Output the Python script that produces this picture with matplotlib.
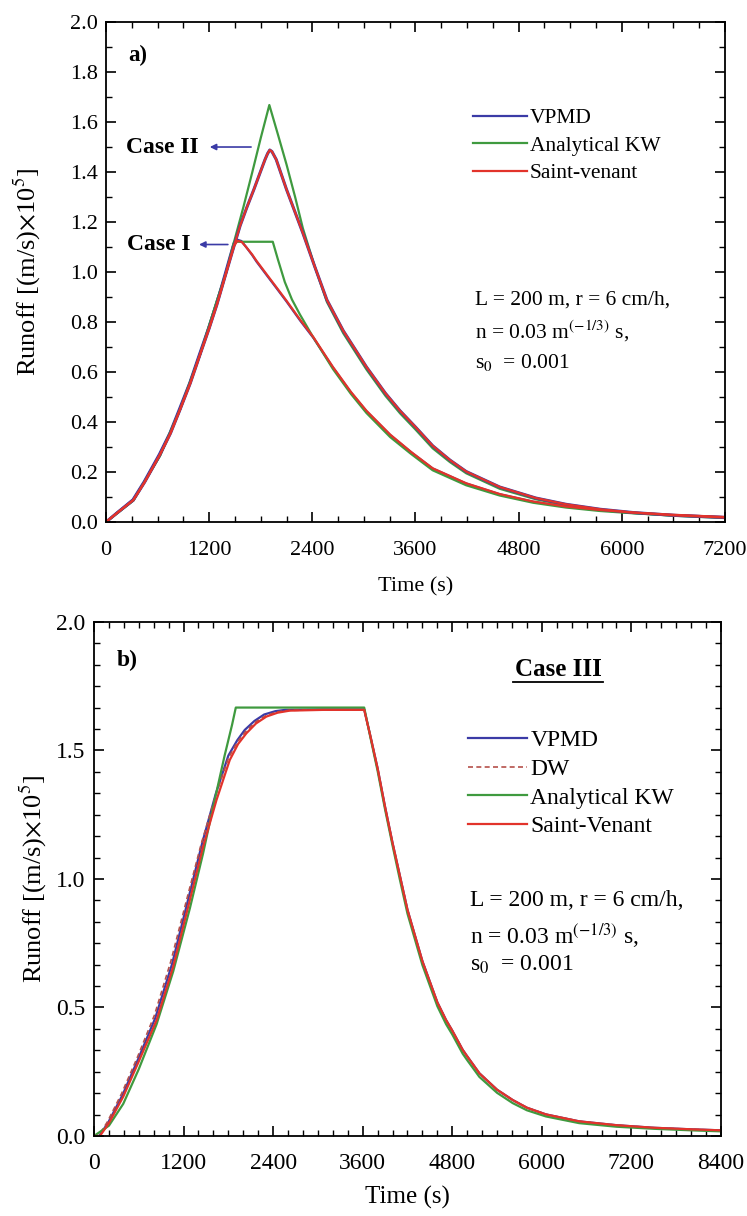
import matplotlib
matplotlib.use("Agg")
import matplotlib.pyplot as plt
from matplotlib.ticker import MultipleLocator, AutoMinorLocator, FormatStrFormatter

plt.rcParams['font.family'] = ['Liberation Serif', 'DejaVu Serif']
plt.rcParams['mathtext.fontset'] = 'stix'

# ---- panel a) data (time in s, runoff in (m/s)x1e5) ----
# Case I
t_a1_sv = [0, 124, 318, 450, 628, 750, 861, 980, 1094, 1200, 1290, 1350, 1400, 1450, 1490, 1530, 1580,
           1630, 1700, 1750, 1870, 1980, 2100, 2256, 2411, 2640, 2850, 3030, 3305, 3550, 3800, 4190,
           4580, 4970, 5350, 5750, 6130, 6600, 7200]
q_a1_sv = [0, 0.035, 0.088, 0.16, 0.27, 0.355, 0.45, 0.555, 0.67, 0.775, 0.87, 0.94, 1.0, 1.06, 1.105, 1.125, 1.12,
           1.1, 1.07, 1.045, 0.99, 0.94, 0.885, 0.81, 0.74, 0.62, 0.52, 0.445, 0.35, 0.28, 0.215, 0.155,
           0.112, 0.082, 0.062, 0.048, 0.038, 0.029, 0.02]
t_a1_vp = [0, 120, 310, 440, 618, 740, 850, 970, 1084, 1190, 1280, 1340, 1390, 1440, 1480, 1520, 1575,
           1630, 1700, 1750, 1870, 1980, 2100, 2256, 2411, 2640, 2850, 3030, 3305, 3550, 3800, 4190,
           4580, 4970, 5350, 5750, 6130, 6600, 7200]
q_a1_vp = [0, 0.036, 0.09, 0.162, 0.272, 0.357, 0.452, 0.557, 0.672, 0.777, 0.872, 0.942, 1.002, 1.063, 1.11, 1.13, 1.124,
           1.1, 1.068, 1.042, 0.987, 0.937, 0.882, 0.807, 0.737, 0.618, 0.518, 0.443, 0.348, 0.279, 0.214, 0.154,
           0.111, 0.081, 0.061, 0.047, 0.037, 0.028, 0.02]
t_a1_kw = [0, 318, 628, 861, 1094, 1290, 1400, 1490, 1940, 2000, 2080, 2163, 2256, 2400, 2640, 2850, 3030,
           3305, 3550, 3800, 4190, 4580, 4970, 5350, 5750, 6130, 6600, 7200]
q_a1_kw = [0, 0.086, 0.265, 0.45, 0.67, 0.885, 1.0, 1.121, 1.121, 1.05, 0.96, 0.89, 0.83, 0.745, 0.612, 0.512, 0.436,
           0.34, 0.272, 0.207, 0.147, 0.106, 0.077, 0.058, 0.044, 0.035, 0.026, 0.018]

# Case II
t_a2_sv = [0, 124, 318, 450, 628, 750, 861, 980, 1094, 1200, 1290, 1400, 1490, 1560, 1640, 1720, 1790,
           1850, 1880, 1905, 1930, 1980, 2100, 2290, 2430, 2570, 2760, 3030, 3250, 3420, 3600, 3800,
           4000, 4190, 4580, 5000, 5350, 5750, 6130, 6600, 7200]
q_a2_sv = [0, 0.035, 0.088, 0.16, 0.27, 0.355, 0.45, 0.555, 0.67, 0.775, 0.87, 1.0, 1.105, 1.185, 1.26, 1.33, 1.395,
           1.45, 1.474, 1.488, 1.482, 1.45, 1.33, 1.156, 1.02, 0.888, 0.765, 0.62, 0.515, 0.445, 0.38, 0.305,
           0.248, 0.202, 0.14, 0.096, 0.071, 0.051, 0.038, 0.027, 0.018]
t_a2_kw = [0, 318, 628, 861, 1094, 1290, 1400, 1490, 1600, 1700, 1800, 1900, 2000, 2100, 2200, 2290, 2430,
           2570, 2760, 3030, 3250, 3420, 3600, 3800, 4000, 4190, 4580, 5000, 5350, 5750, 6130, 6600, 7200]
q_a2_kw = [0, 0.086, 0.265, 0.45, 0.67, 0.885, 1.0, 1.121, 1.262, 1.397, 1.536, 1.668, 1.55, 1.43, 1.3, 1.175, 1.02,
           0.88, 0.755, 0.61, 0.505, 0.435, 0.37, 0.295, 0.24, 0.195, 0.133, 0.091, 0.067, 0.048, 0.036, 0.025, 0.016]

# ---- panel b) data ----
t_b_sv = [0, 80, 200, 392, 600, 839, 1061, 1284, 1462, 1641, 1819, 1930, 2042, 2170, 2310, 2460, 2622,
          3067, 3620, 3700, 3800, 3900, 4000, 4100, 4200, 4300, 4400, 4500, 4600, 4717, 4800, 4940,
          5000, 5163, 5400, 5609, 5800, 6055, 6500, 7000, 7500, 8000, 8400]
q_b_sv = [0, 0, 0.05, 0.153, 0.29, 0.451, 0.659, 0.918, 1.126, 1.307, 1.463, 1.525, 1.567, 1.605, 1.632, 1.647, 1.655,
          1.658, 1.658, 1.56, 1.43, 1.28, 1.14, 1.01, 0.88, 0.78, 0.68, 0.6, 0.52, 0.451, 0.41, 0.335,
          0.31, 0.244, 0.18, 0.14, 0.11, 0.084, 0.057, 0.042, 0.032, 0.026, 0.022]
t_b_vp = [0, 70, 190, 380, 590, 820, 1045, 1270, 1450, 1630, 1800, 1920, 2020, 2150, 2280, 2430, 2560,
          3067, 3620, 3700, 3800, 3900, 4000, 4100, 4200, 4300, 4400, 4500, 4600, 4717, 4800, 4940,
          5000, 5163, 5400, 5609, 5800, 6055, 6500, 7000, 7500, 8000, 8400]
q_b_vp = [0, 0, 0.052, 0.158, 0.298, 0.458, 0.668, 0.93, 1.14, 1.33, 1.48, 1.54, 1.58, 1.615, 1.64, 1.653, 1.658,
          1.66, 1.66, 1.56, 1.43, 1.28, 1.14, 1.01, 0.88, 0.78, 0.68, 0.6, 0.52, 0.451, 0.41, 0.335,
          0.31, 0.244, 0.18, 0.14, 0.11, 0.084, 0.057, 0.042, 0.032, 0.026, 0.022]
t_b_dw = [0, 60, 180, 370, 580, 810, 1030, 1260, 1440, 1625, 1800, 1925, 2030, 2160, 2300, 2450, 2600,
          3067, 3620, 3700, 3800, 3900, 4000, 4100, 4200, 4300, 4400, 4500, 4600, 4717, 4800, 4940,
          5000, 5163, 5400, 5609, 5800, 6055, 6500, 7000, 7500, 8000, 8400]
q_b_dw = [0, 0, 0.055, 0.165, 0.305, 0.47, 0.68, 0.94, 1.14, 1.32, 1.47, 1.535, 1.573, 1.61, 1.635, 1.65, 1.656,
          1.658, 1.658, 1.56, 1.43, 1.28, 1.14, 1.01, 0.88, 0.78, 0.68, 0.6, 0.52, 0.451, 0.41, 0.335,
          0.31, 0.244, 0.18, 0.14, 0.11, 0.084, 0.057, 0.042, 0.032, 0.026, 0.022]
t_b_kw = [0, 200, 392, 600, 839, 1061, 1284, 1462, 1551, 1650, 1750, 1850, 1900, 3620, 3700, 3800, 3900,
          4000, 4100, 4200, 4300, 4400, 4500, 4600, 4717, 4800, 4940, 5000, 5163, 5400, 5609, 5800,
          6055, 6500, 7000, 7500, 8000, 8400]
q_b_kw = [0, 0.04, 0.125, 0.26, 0.435, 0.64, 0.885, 1.10, 1.22, 1.35, 1.48, 1.6, 1.667, 1.667, 1.555, 1.42, 1.27,
          1.13, 0.995, 0.865, 0.765, 0.665, 0.585, 0.505, 0.435, 0.395, 0.32, 0.295, 0.23, 0.168, 0.128, 0.1,
          0.076, 0.05, 0.036, 0.028, 0.022, 0.018]

BLUE = '#3b3ba6'
GREEN = '#3f9a3f'
RED = '#e2332b'
DWC = '#b5504a'
lw = 1.6

fig = plt.figure(figsize=(7.47, 12.16), dpi=100)
ax1 = fig.add_axes([0.1419, 0.5707, 0.8286, 0.4112])
ax2 = fig.add_axes([0.1258, 0.0658, 0.8394, 0.4227])

# panel a
ax1.plot(t_a1_vp, q_a1_vp, color=BLUE, lw=lw, label='VPMD')
ax1.plot(t_a1_kw, q_a1_kw, color=GREEN, lw=lw, label='Analytical KW')
ax1.plot(t_a2_kw, q_a2_kw, color=GREEN, lw=lw)
ax1.plot(t_a2_sv, q_a2_sv, color=BLUE, lw=lw + 0.6)
ax1.plot(t_a1_sv, q_a1_sv, color=RED, lw=lw, label='Saint-venant')
ax1.plot(t_a2_sv, q_a2_sv, color=RED, lw=lw)

ax1.set_xlim(0, 7200)
ax1.set_ylim(0, 2.0)
ax1.xaxis.set_major_locator(MultipleLocator(1200))
ax1.xaxis.set_minor_locator(AutoMinorLocator(4))
ax1.yaxis.set_major_locator(MultipleLocator(0.2))
ax1.yaxis.set_minor_locator(AutoMinorLocator(2))
ax1.yaxis.set_major_formatter(FormatStrFormatter('%.1f'))

ax1.text(0.036, 0.934, 'a)', transform=ax1.transAxes, fontsize=16.5, fontweight='bold', va='center')
ax1.annotate('', xy=(1175, 1.5), xytext=(1720, 1.5),
             arrowprops=dict(arrowstyle='-|>', color=BLUE, lw=1.2, mutation_scale=9))
ax1.text(233, 1.5, 'Case II', fontsize=17, fontweight='bold', va='center')
ax1.annotate('', xy=(1050, 1.11), xytext=(1450, 1.11),
             arrowprops=dict(arrowstyle='-|>', color=BLUE, lw=1.2, mutation_scale=9))
ax1.text(244, 1.11, 'Case I', fontsize=17, fontweight='bold', va='center')

ax1.legend(loc='upper left', bbox_to_anchor=(0.593, 0.828), frameon=False, fontsize=15.5,
           handlelength=2.5, handletextpad=0.15, labelspacing=0.35, borderpad=0, borderaxespad=0)

ax1.text(0.596, 0.444, 'L = 200 m, r = 6 cm/h,', transform=ax1.transAxes, fontsize=15.5, va='center')
ax1.text(0.596, 0.382, r'n = 0.03 m$^{(-1/3)}$ s,', transform=ax1.transAxes, fontsize=15.5, va='center')
ax1.text(0.596, 0.32, r's$_0$  = 0.001', transform=ax1.transAxes, fontsize=15.5, va='center')

ax1.set_xlabel('Time (s)', fontsize=16, labelpad=12)
ax1.set_ylabel(r'Runoff [(m/s)$\times$10$^5$]', fontsize=19, labelpad=19)

# panel b
ax2.plot(t_b_vp, q_b_vp, color=BLUE, lw=lw, label='VPMD')
ax2.plot(t_b_dw, q_b_dw, color=DWC, lw=1.2, ls=(0, (3, 2)), label='DW')
ax2.plot(t_b_kw, q_b_kw, color=GREEN, lw=lw, label='Analytical KW')
ax2.plot(t_b_sv, q_b_sv, color=RED, lw=lw, label='Saint-Venant')

ax2.set_xlim(0, 8400)
ax2.set_ylim(0, 2.0)
ax2.xaxis.set_major_locator(MultipleLocator(1200))
ax2.xaxis.set_minor_locator(AutoMinorLocator(6))
ax2.yaxis.set_major_locator(MultipleLocator(0.5))
ax2.yaxis.set_minor_locator(AutoMinorLocator(6))
ax2.yaxis.set_major_formatter(FormatStrFormatter('%.1f'))

ax2.text(0.037, 0.926, 'b)', transform=ax2.transAxes, fontsize=17, fontweight='bold', va='center')
ax2.text(0.74, 0.907, 'Case III', transform=ax2.transAxes, fontsize=18, fontweight='bold',
         va='center', ha='center')
ax2.plot([0.668, 0.812], [0.884, 0.884], transform=ax2.transAxes, color='black', lw=1.3)

ax2.legend(loc='upper left', bbox_to_anchor=(0.596, 0.79), frameon=False, fontsize=17,
           handlelength=2.5, handletextpad=0.15, labelspacing=0.3, borderpad=0, borderaxespad=0)

ax2.text(0.6, 0.459, 'L = 200 m, r = 6 cm/h,', transform=ax2.transAxes, fontsize=17, va='center')
ax2.text(0.6, 0.39, r'n = 0.03 m$^{(-1/3)}$ s,', transform=ax2.transAxes, fontsize=17, va='center')
ax2.text(0.6, 0.333, r's$_0$  = 0.001', transform=ax2.transAxes, fontsize=17, va='center')

ax2.set_xlabel('Time (s)', fontsize=18, labelpad=9)
ax2.set_ylabel(r'Runoff [(m/s)$\times$10$^5$]', fontsize=19, labelpad=5)

for ax, fs, xp in ((ax1, 16, 14), (ax2, 17, 12)):
    ax.tick_params(which='both', direction='in', top=True, right=True, labelsize=fs)
    ax.tick_params(which='major', length=7, width=1.2)
    ax.tick_params(which='minor', length=4, width=1)
    ax.tick_params(axis='x', pad=xp)
    ax.tick_params(axis='y', pad=6)
    for s in ax.spines.values():
        s.set_linewidth(1.3)

fig.savefig('out.png', dpi=100)
